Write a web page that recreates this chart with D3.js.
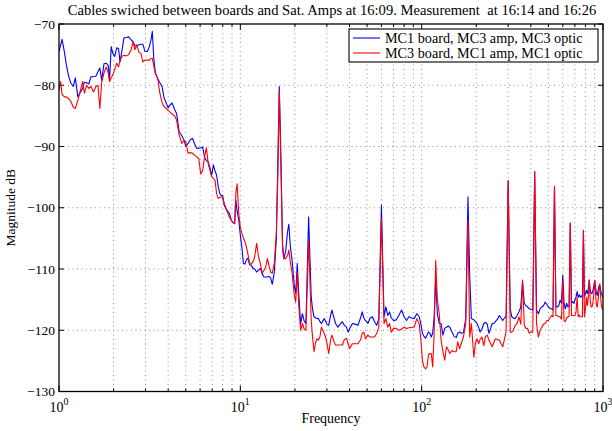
<!DOCTYPE html>
<html><head><meta charset="utf-8">
<script src="https://cdn.jsdelivr.net/npm/d3@7"></script>
<style>
body{margin:0;background:#fff;}
svg{display:block;font-family:"Liberation Serif","Times New Roman",serif;}
</style></head><body>
<svg id="c" width="612" height="431"></svg>
<script>
const titleText = "Cables swiched between boards and Sat. Amps at 16:09. Measurement\u00a0 at 16:14 and 16:26";
const xLabel = "Frequency";
const yLabel = "Magnitude dB";
const seriesNames = ["MC1 board, MC3 amp, MC3 optic", "MC3 board, MC1 amp, MC1 optic"];
const seriesColors = ["#0000ff", "#ff0000"];
const yTicks = [-130, -120, -110, -100, -90, -80, -70];
const xTickExps = [0, 1, 2, 3];

const freq = [1.0,1.02,1.04,1.07,1.1,1.13,1.16,1.2,1.23,1.27,1.31,1.35,1.38,1.42,1.46,1.5,1.55,1.6,1.64,1.68,1.72,1.77,1.82,1.87,1.9,1.94,1.98,2.03,2.08,2.13,2.17,2.22,2.28,2.35,2.42,2.5,2.56,2.62,2.68,2.76,2.83,2.9,2.98,3.07,3.15,3.22,3.27,3.33,3.4,3.5,3.6,3.7,3.8,3.9,4.0,4.1,4.2,4.35,4.45,4.6,4.75,4.9,5.0,5.15,5.3,5.45,5.6,5.75,5.9,6.05,6.2,6.35,6.5,6.65,6.8,6.95,7.1,7.25,7.4,7.55,7.7,7.85,8.0,8.15,8.3,8.5,8.7,8.9,9.1,9.3,9.45,9.6,9.8,10.0,10.2,10.4,10.6,10.8,11.0,11.25,11.5,11.75,12.0,12.3,12.6,12.9,13.2,13.5,13.8,14.1,14.4,14.7,15.0,15.4,15.8,16.1,16.4,16.7,17.1,17.4,17.8,18.2,18.5,18.9,19.3,19.8,20.2,20.6,21.0,21.5,22.0,22.5,23.0,23.8,24.6,25.0,25.5,26.0,26.5,27.0,27.5,28.0,29.0,29.5,30.0,30.7,31.5,32.0,33.0,33.5,34.5,35.5,36.5,37.5,38.5,39.3,40.0,41.5,43.0,44.5,46.0,47.0,48.0,49.0,50.5,52.0,53.5,55.0,56.5,58.0,60.0,62.0,63.5,65.0,66.5,68.0,70.0,72.5,75.0,77.5,80.0,82.5,85.0,88.0,91.0,94.0,97.0,99.0,101,103,105,107,109,111,113,115,117,119.5,122,125,128,131,134,137,140,143,147,151,155,158,162,166,170,175,180,184,188,194,198,202,206,210,215,220,225,230,235,240,245,250,255,262,268,274,280,286,292,300,308,314,320,328,336,344,352,360,368,376,384,392,400,410,420,430,440,450,460,470,480,490,500,510,520,530,540,550,560,570,580,590,600,610,620,630,640,650,660,670,680,690,700,710,720,730,740,750,760,770,780,790,800,810,820,830,840,850,860,870,880,890,900,910,920,930,940,950,960,970,980,990,1000];

const magBlue = [-74.5,-73.5,-72.5,-74.5,-76.8,-78.5,-79.6,-80.2,-78.8,-81.9,-81.2,-80.5,-79.5,-79.6,-79.8,-78.6,-78.6,-78.5,-77.8,-77.2,-79.2,-76.5,-76.4,-76.8,-79.2,-73.7,-74.8,-75.3,-73.9,-74.0,-76.2,-74.5,-72.3,-72.2,-72.1,-72.6,-72.9,-73.5,-73.6,-73.4,-73.3,-73.3,-74.5,-74.5,-73.7,-72.5,-71.2,-75.5,-78.0,-78.9,-79.6,-80.2,-82.1,-82.9,-83.7,-83.2,-82.9,-84.0,-84.6,-87.6,-88.2,-89.0,-90.0,-89.5,-88.9,-88.7,-89.6,-90.3,-90.3,-90.2,-90.1,-91.8,-92.3,-92.5,-93.5,-94.7,-93.0,-94.0,-94.7,-96.5,-97.7,-98.0,-98.0,-99.6,-100.1,-100.5,-100.9,-102.0,-102.4,-102.6,-98.8,-100.5,-102.0,-104.5,-106.5,-109.1,-109.2,-108.5,-108.2,-109.3,-109.4,-109.9,-110.0,-110.5,-110.2,-109.9,-110.8,-111.3,-111.3,-111.3,-111.2,-111.5,-112.5,-110.5,-105.0,-92.2,-80.2,-90.0,-106.0,-108.3,-107.0,-104.0,-102.7,-106.5,-108.6,-112.5,-114.0,-109.1,-114.0,-119.0,-117.3,-118.5,-118.9,-101.5,-114.6,-116.5,-117.8,-118.0,-118.1,-118.1,-118.6,-118.9,-118.1,-118.5,-119.0,-119.2,-117.5,-116.7,-118.2,-118.9,-119.5,-119.0,-118.6,-119.2,-119.5,-120.3,-119.8,-118.9,-119.0,-119.2,-118.0,-117.0,-118.0,-118.4,-118.9,-118.0,-117.8,-118.6,-119.2,-118.1,-99.6,-117.8,-116.2,-117.6,-117.0,-118.0,-118.4,-118.3,-117.5,-116.7,-117.8,-118.4,-117.8,-118.0,-118.1,-117.3,-117.8,-119.0,-120.5,-121.0,-121.3,-120.8,-120.3,-120.5,-121.1,-120.5,-118.0,-111.8,-117.3,-118.9,-118.9,-120.8,-119.7,-119.5,-119.3,-119.5,-120.3,-121.0,-121.2,-120.5,-120.3,-120.5,-120.4,-118.1,-98.2,-111.0,-118.1,-118.3,-118.6,-118.9,-119.5,-120.3,-119.8,-118.9,-118.7,-119.0,-120.5,-119.7,-118.9,-118.9,-118.6,-118.2,-117.6,-118.0,-118.4,-118.0,-117.8,-95.6,-116.5,-117.8,-118.0,-118.1,-117.6,-117.0,-116.2,-112.1,-115.6,-116.0,-116.2,-116.5,-116.6,-116.7,-94.1,-116.7,-117.3,-116.5,-116.2,-116.0,-115.4,-115.8,-116.2,-116.4,-116.5,-116.7,-96.5,-116.2,-116.2,-116.0,-115.1,-115.6,-111.0,-115.6,-116.5,-115.6,-116.2,-116.0,-102.5,-115.6,-115.3,-115.6,-115.1,-114.6,-113.7,-114.6,-114.2,-114.6,-114.4,-114.6,-103.7,-114.6,-114.0,-113.5,-114.0,-113.2,-111.8,-113.5,-114.0,-114.0,-113.5,-112.8,-111.9,-113.0,-114.0,-114.3,-113.5,-112.8,-112.6,-113.5,-114.0,-114.3,-114.6];

const magRed = [-80.8,-79.4,-81.5,-81.9,-81.9,-82.2,-82.6,-83.6,-83.8,-82.5,-80.9,-79.4,-81.3,-80.0,-80.5,-80.2,-81.1,-80.2,-80.0,-83.8,-79.5,-78.0,-77.0,-78.0,-79.4,-78.8,-78.3,-77.4,-76.4,-77.0,-76.0,-75.3,-75.1,-75.2,-75.0,-74.2,-72.9,-74.2,-73.4,-74.6,-74.8,-76.2,-75.9,-75.9,-75.9,-75.6,-75.6,-76.8,-78.1,-78.9,-81.3,-82.8,-83.5,-83.8,-84.1,-84.4,-84.7,-85.0,-85.7,-88.1,-89.5,-89.0,-89.2,-91.1,-91.0,-91.1,-91.4,-91.7,-92.0,-94.5,-93.9,-91.7,-90.2,-92.8,-93.9,-94.9,-95.2,-95.5,-97.7,-98.5,-98.3,-98.2,-98.5,-99.3,-99.9,-100.8,-101.5,-102.0,-102.4,-102.6,-97.5,-96.1,-100.9,-103.2,-104.2,-104.9,-105.5,-106.4,-107.5,-109.1,-109.2,-108.8,-108.0,-105.8,-108.0,-109.1,-110.7,-110.2,-109.7,-108.3,-109.5,-110.5,-110.7,-109.0,-104.0,-94.9,-81.0,-92.0,-107.0,-108.3,-108.3,-107.8,-106.9,-109.0,-110.7,-114.0,-115.4,-110.5,-116.0,-120.0,-118.9,-119.8,-120.0,-105.3,-118.4,-121.0,-123.5,-122.0,-121.4,-121.6,-121.0,-119.5,-120.5,-121.1,-122.0,-123.8,-121.5,-120.8,-122.0,-122.4,-122.4,-122.4,-122.4,-121.5,-121.3,-122.2,-123.0,-122.2,-122.2,-122.2,-121.6,-120.5,-120.3,-121.4,-120.8,-121.1,-121.1,-121.1,-120.5,-119.5,-101.7,-118.9,-118.1,-119.5,-118.9,-120.3,-119.7,-119.7,-120.0,-119.8,-119.5,-119.7,-119.6,-119.5,-119.5,-118.1,-119.0,-121.6,-125.0,-126.0,-126.3,-126.0,-124.0,-123.8,-123.8,-126.0,-121.0,-108.6,-115.0,-117.3,-121.6,-123.5,-124.9,-122.7,-123.2,-123.8,-123.3,-123.5,-123.5,-121.9,-123.0,-122.0,-121.1,-118.9,-102.0,-121.1,-118.9,-124.4,-122.0,-121.4,-122.2,-121.5,-121.1,-122.5,-121.0,-120.8,-121.6,-122.2,-122.7,-122.0,-121.4,-121.5,-121.6,-122.2,-122.7,-121.5,-120.3,-95.6,-120.3,-120.3,-120.0,-119.2,-118.9,-117.8,-119.0,-111.8,-119.2,-119.7,-119.7,-120.5,-120.3,-120.3,-94.1,-118.9,-121.1,-120.0,-119.5,-119.0,-118.9,-118.4,-118.4,-118.0,-117.6,-117.8,-96.5,-117.6,-117.6,-117.8,-117.8,-118.2,-111.8,-118.4,-118.6,-118.0,-117.8,-117.8,-102.5,-117.6,-117.6,-117.6,-117.6,-117.0,-114.6,-117.8,-117.5,-117.8,-117.8,-117.8,-103.7,-117.8,-116.5,-114.6,-116.0,-114.6,-111.8,-115.0,-116.2,-116.2,-115.5,-114.0,-111.8,-114.0,-116.0,-116.2,-115.0,-113.5,-112.4,-114.5,-116.0,-116.5,-116.7];

const svg = d3.select("#c");
const W = 612, H = 431;
const m = {left: 59, right: 603, top: 24, bottom: 391.5};

const x = d3.scaleLog().domain([1, 1000]).range([m.left, m.right]);
const y = d3.scaleLinear().domain([-130, -70]).range([m.bottom, m.top]);

svg.append("rect").attr("width", W).attr("height", H).attr("fill", "#fff");

// grid
const minorX = [];
[1, 10, 100].forEach(d => { for (let k = 2; k <= 9; k++) minorX.push(k * d); });
const majorX = xTickExps.map(e => Math.pow(10, e));
const gridG = svg.append("g").attr("stroke", "#777").attr("stroke-width", 0.8).attr("stroke-dasharray", "1,3.5");
minorX.concat(majorX.slice(1, -1)).forEach(v => {
  gridG.append("line").attr("x1", x(v)).attr("x2", x(v)).attr("y1", m.top).attr("y2", m.bottom);
});
yTicks.slice(1, -1).forEach(v => {
  gridG.append("line").attr("x1", m.left).attr("x2", m.right).attr("y1", y(v)).attr("y2", y(v));
});

// tick marks
const tickG = svg.append("g").attr("stroke", "#000").attr("stroke-width", 1);
majorX.forEach(v => {
  tickG.append("line").attr("x1", x(v)).attr("x2", x(v)).attr("y1", m.bottom).attr("y2", m.bottom - 6);
  tickG.append("line").attr("x1", x(v)).attr("x2", x(v)).attr("y1", m.top).attr("y2", m.top + 6);
});
minorX.forEach(v => {
  tickG.append("line").attr("x1", x(v)).attr("x2", x(v)).attr("y1", m.bottom).attr("y2", m.bottom - 3);
  tickG.append("line").attr("x1", x(v)).attr("x2", x(v)).attr("y1", m.top).attr("y2", m.top + 3);
});
yTicks.forEach(v => {
  tickG.append("line").attr("x1", m.left).attr("x2", m.left + 5).attr("y1", y(v)).attr("y2", y(v));
  tickG.append("line").attr("x1", m.right).attr("x2", m.right - 5).attr("y1", y(v)).attr("y2", y(v));
});

// lines
const clip = svg.append("clipPath").attr("id", "clp").append("rect")
  .attr("x", m.left).attr("y", m.top).attr("width", m.right - m.left).attr("height", m.bottom - m.top);
const line = d3.line().x(d => x(d[0])).y(d => y(d[1]));
const series = [magBlue, magRed];
series.forEach((mag, i) => {
  svg.append("path")
    .datum(freq.map((f, j) => [f, mag[j]]))
    .attr("clip-path", "url(#clp)")
    .attr("fill", "none")
    .attr("stroke", seriesColors[i])
    .attr("stroke-width", 1.1)
    .attr("stroke-linejoin", "round")
    .attr("d", line);
});

// box
svg.append("rect").attr("x", m.left).attr("y", m.top).attr("width", m.right - m.left).attr("height", m.bottom - m.top)
  .attr("fill", "none").attr("stroke", "#000").attr("stroke-width", 1.3);

// y tick labels
yTicks.forEach(v => {
  svg.append("text").attr("x", m.left - 4).attr("y", y(v)).attr("dy", "0.35em")
    .attr("text-anchor", "end").attr("font-size", 13.5).attr("fill", "#000")
    .text("\u2212" + Math.abs(v));
});
// x tick labels
xTickExps.forEach(e => {
  const t = svg.append("text").attr("x", x(Math.pow(10, e))).attr("y", 411.5)
    .attr("text-anchor", "middle").attr("font-size", 14).attr("fill", "#000");
  t.append("tspan").text("10");
  t.append("tspan").attr("font-size", 10).attr("dy", -7).text(String(e));
});

// axis labels
svg.append("text").attr("x", (m.left + m.right) / 2).attr("y", 423).attr("text-anchor", "middle")
  .attr("font-size", 14).text(xLabel);
svg.append("text").attr("transform", `translate(15,${(m.top + m.bottom) / 2}) rotate(-90)`)
  .attr("text-anchor", "middle").attr("font-size", 13.5).text(yLabel);

// title
svg.append("text").attr("x", (m.left + m.right) / 2 + 1).attr("y", 15).attr("text-anchor", "middle")
  .attr("font-size", 14.6).text(titleText);

// legend
const lg = {x: 349, y: 29, w: 249, h: 33};
svg.append("rect").attr("x", lg.x).attr("y", lg.y).attr("width", lg.w).attr("height", lg.h)
  .attr("fill", "#fff").attr("stroke", "#000").attr("stroke-width", 1.1);
seriesNames.forEach((n, i) => {
  const cy = lg.y + 9 + i * 15;
  svg.append("line").attr("x1", lg.x + 4).attr("x2", lg.x + 31).attr("y1", cy).attr("y2", cy)
    .attr("stroke", seriesColors[i]).attr("stroke-width", 1.1);
  svg.append("text").attr("x", lg.x + 36).attr("y", cy).attr("dy", "0.35em").attr("font-size", 14.2).text(n);
});
</script>
</body></html>
